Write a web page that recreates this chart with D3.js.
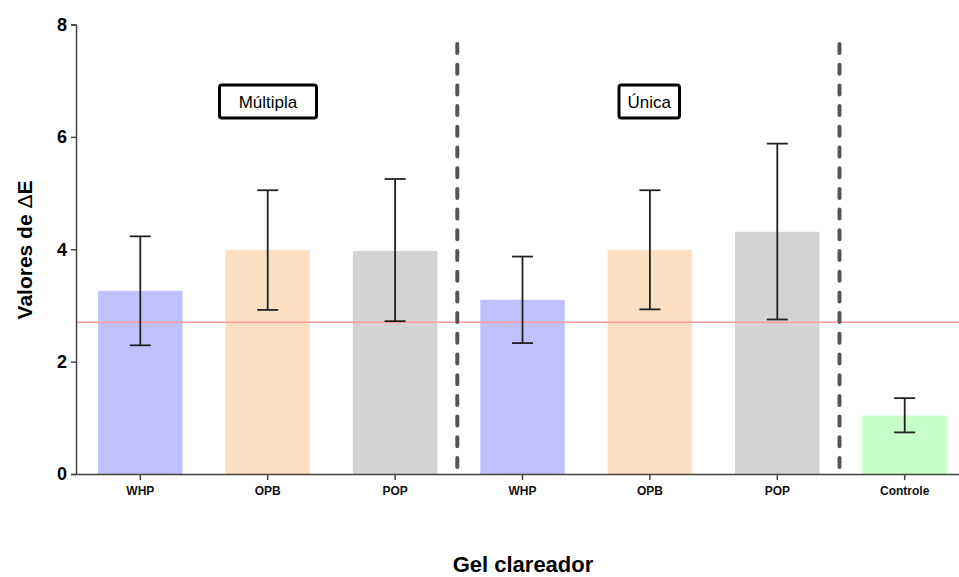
<!DOCTYPE html>
<html>
<head>
<meta charset="utf-8">
<script src="https://cdn.jsdelivr.net/npm/d3@7"></script>
<style>
  body { margin: 0; background: #fff; }
  svg { display: block; font-family: Arial, "Liberation Sans", sans-serif; }
</style>
</head>
<body>
<svg id="chart" width="959" height="577"></svg>
<script>
// Data
const categories = ["WHP", "OPB", "POP", "WHP ", "OPB ", "POP ", "Controle"];
const tickLabels = ["WHP", "OPB", "POP", "WHP", "OPB", "POP", "Controle"];
const means = [3.26, 3.99, 3.97, 3.10, 3.99, 4.31, 1.04];
const errLow = [2.29, 2.92, 2.72, 2.33, 2.93, 2.75, 0.74];
const errHigh = [4.23, 5.05, 5.25, 3.87, 5.05, 5.88, 1.35];
const barColors = ["#c0c0ff", "#fde0c1", "#d3d3d3", "#c0c0ff", "#fde0c1", "#d3d3d3", "#c8ffc8"];
const refValue = 2.7;
const groupLabels = ["Múltipla", "Única"];
const yTicks = [0, 2, 4, 6, 8];

const svg = d3.select("#chart");

const x = d3.scaleBand()
    .domain(categories)
    .range([76.6, 968.4])
    .paddingInner(0.337)
    .paddingOuter(0.1685);

const y = d3.scaleLinear()
    .domain([0, 8])
    .range([474, 24.5]);

// Bars
svg.append("g")
    .selectAll("rect")
    .data(categories)
    .enter()
    .append("rect")
    .attr("x", d => x(d))
    .attr("y", (d, i) => y(means[i]))
    .attr("width", x.bandwidth())
    .attr("height", (d, i) => y(0) - y(means[i]))
    .attr("fill", (d, i) => barColors[i]);

// Reference line
svg.append("line")
    .attr("x1", 76)
    .attr("x2", 959)
    .attr("y1", y(refValue))
    .attr("y2", y(refValue))
    .attr("stroke", "#ff9a9a")
    .attr("stroke-width", 1.5);

// Error bars
const eb = svg.append("g")
    .attr("stroke", "#222")
    .attr("stroke-width", 1.8);

categories.forEach((c, i) => {
    const cx = x(c) + x.bandwidth() / 2;
    eb.append("line")
        .attr("x1", cx).attr("x2", cx)
        .attr("y1", y(errLow[i])).attr("y2", y(errHigh[i]));
    [errLow[i], errHigh[i]].forEach(v => {
        eb.append("line")
            .attr("x1", cx - 10.5).attr("x2", cx + 10.5)
            .attr("y1", y(v)).attr("y2", y(v));
    });
});

// Dashed separators between groups
const separators = [2, 5];
separators.forEach(i => {
    const sx = x(categories[i]) + x.bandwidth() + (x.step() - x.bandwidth()) / 2 - 1.5;
    svg.append("line")
        .attr("x1", sx).attr("x2", sx)
        .attr("y1", 44).attr("y2", 474)
        .attr("stroke", "#555")
        .attr("stroke-width", 4)
        .attr("stroke-linecap", "round")
        .attr("stroke-dasharray", "9 11.7");
});

// Y axis
const yAxis = svg.append("g")
    .attr("transform", "translate(76,0)")
    .call(d3.axisLeft(y).tickValues(yTicks).tickSize(5).tickPadding(4));
yAxis.select(".domain").attr("stroke", "#444").attr("stroke-width", 1.5);
yAxis.selectAll(".tick line").attr("stroke", "#444").attr("stroke-width", 1.5);
yAxis.selectAll(".tick text")
    .attr("fill", "#000")
    .style("font-size", "18px")
    .style("font-weight", "bold");

// X axis
const xAxis = svg.append("g")
    .attr("transform", "translate(0,474)")
    .call(d3.axisBottom(x).tickSize(6).tickSizeOuter(0).tickPadding(6).tickFormat((d, i) => tickLabels[i]));
xAxis.select(".domain").attr("stroke", "#444").attr("stroke-width", 1.5);
xAxis.selectAll(".tick line").attr("stroke", "#444").attr("stroke-width", 1.5);
xAxis.selectAll(".tick text")
    .attr("fill", "#111")
    .style("font-size", "12px")
    .style("font-weight", "bold");

// Axis titles
const yTitle = svg.append("text")
    .attr("transform", "translate(32,250) rotate(-90)")
    .attr("text-anchor", "middle")
    .style("font-size", "21px")
    .style("font-weight", "bold");
yTitle.append("tspan").text("Valores de ");
yTitle.append("tspan").style("font-weight", "normal").text("\u0394");
yTitle.append("tspan").text("E");

svg.append("text")
    .attr("x", 523)
    .attr("y", 572)
    .attr("text-anchor", "middle")
    .style("font-size", "22px")
    .style("font-weight", "bold")
    .text("Gel clareador");

// Group label boxes
const boxes = [
    { text: groupLabels[0], x0: 219.5, x1: 316.5 },
    { text: groupLabels[1], x0: 619, x1: 679.5 }
];
boxes.forEach(b => {
    svg.append("rect")
        .attr("x", b.x0).attr("y", 85)
        .attr("width", b.x1 - b.x0).attr("height", 33)
        .attr("rx", 2.5)
        .attr("fill", "#fff")
        .attr("stroke", "#000")
        .attr("stroke-width", 3);
    svg.append("text")
        .attr("x", (b.x0 + b.x1) / 2)
        .attr("y", 108)
        .attr("text-anchor", "middle")
        .style("font-size", "17px")
        .text(b.text);
});
</script>
</body>
</html>
